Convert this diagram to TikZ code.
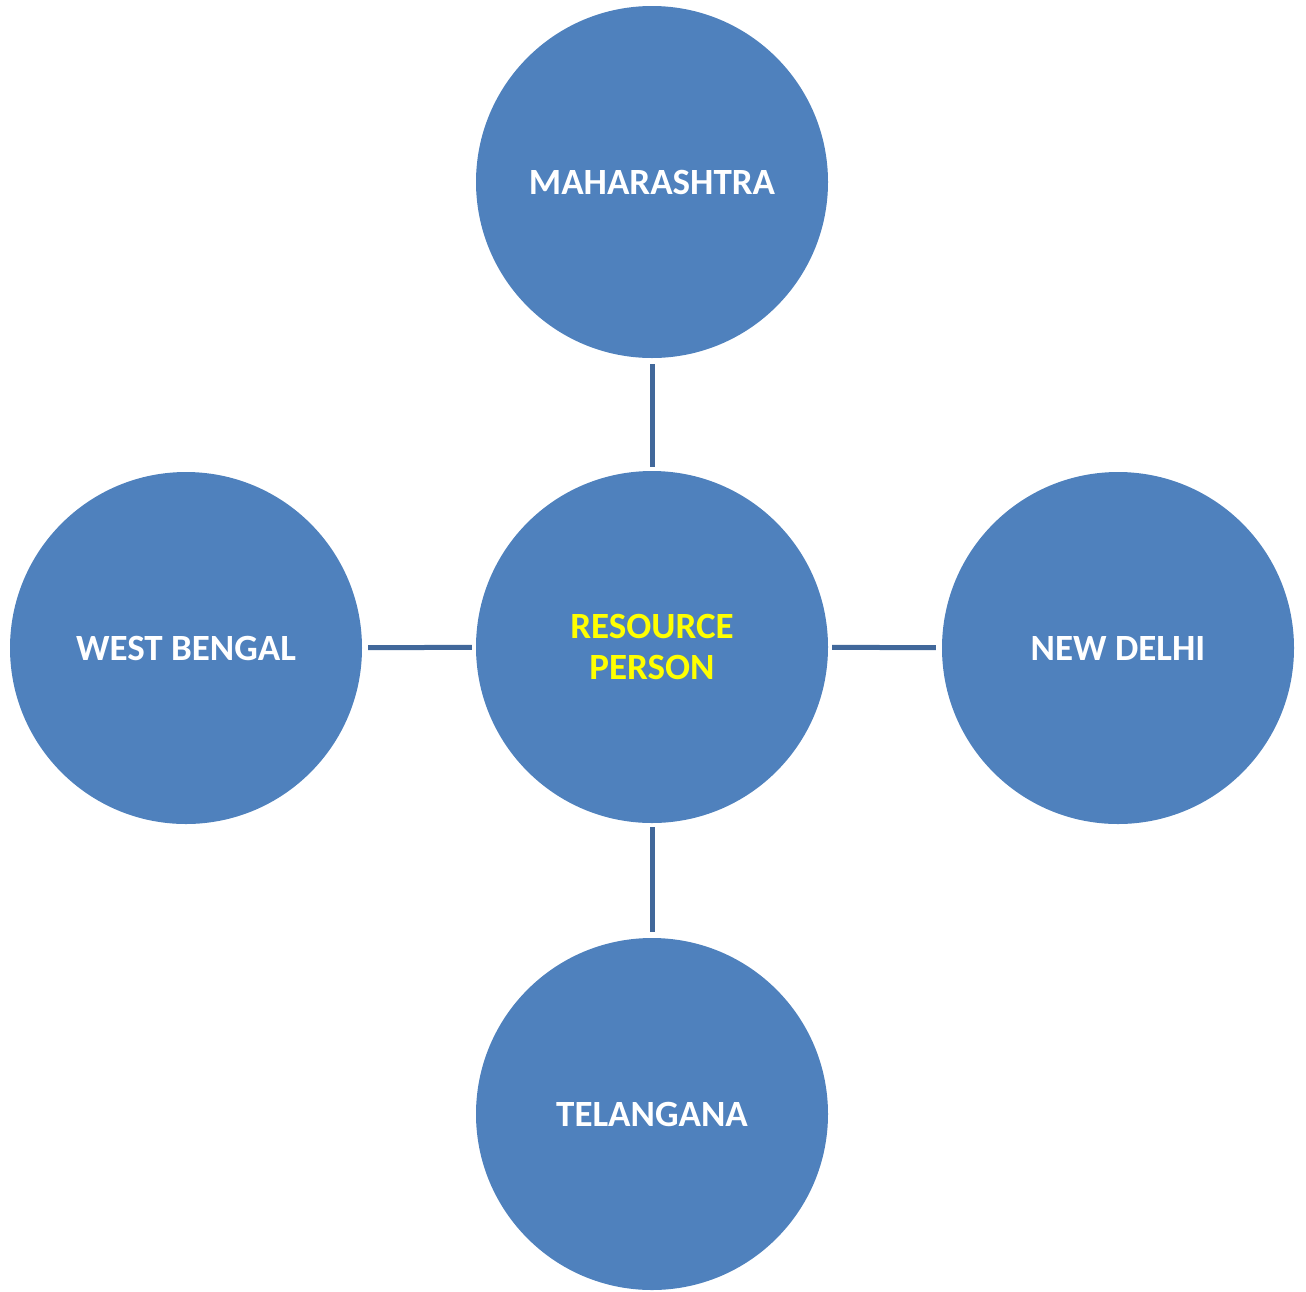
\documentclass[tikz,border=0pt]{standalone}
\usepackage{fontspec}
\setmainfont{Carlito}
\definecolor{cfill}{HTML}{4F81BD}
\definecolor{cline}{HTML}{41689B}
\definecolor{cyel}{HTML}{FFFF00}
\begin{document}
\begin{tikzpicture}[x=1pt,y=-1pt,
  bubble/.style={circle,fill=cfill,minimum size=352pt,inner sep=0pt,text=white,font=\fontsize{37}{41}\selectfont\bfseries,align=center},
  link/.style={draw=cline,line width=5pt}]
\useasboundingbox (0,0) rectangle (1306,1291);
\node[bubble,text=cyel] (c) at (652,647) {RESOURCE\\PERSON};
\node[bubble] (t) at (652,182) {MAHARASHTRA};
\node[bubble] (l) at (186,648) {WEST BENGAL};
\node[bubble] (r) at (1118,648) {NEW DELHI};
\node[bubble] (b) at (652,1114) {TELANGANA};
\draw[link,shorten >=4pt,shorten <=6pt] (t) -- (c);
\draw[link,shorten >=4pt,shorten <=6pt] (l) -- (c);
\draw[link,shorten >=6pt,shorten <=4pt] (c) -- (r);
\draw[link,shorten >=6pt,shorten <=4pt] (c) -- (b);
\end{tikzpicture}
\end{document}
